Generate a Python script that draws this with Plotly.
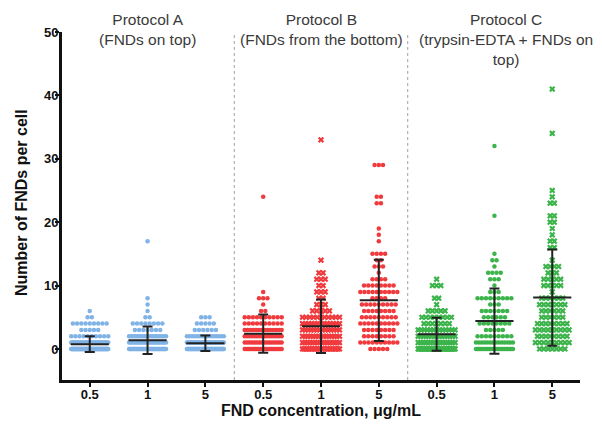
import numpy as np
import plotly.graph_objects as go

# ---------------- data (counts of cells per number of FNDs) ----------------
concentrations = ["0.5", "1", "5"]
protocol_titles = [
    "Protocol A<br>(FNDs on top)",
    "Protocol B<br>(FNDs from the bottom)",
    "Protocol C<br>(trypsin-EDTA + FNDs on<br>top)",
]
protocol_colors = ["#80b3e6", "#f03a3d", "#3cb44b"]

# Protocol A
a05_values = [0, 1, 2, 3, 4, 5, 6]
a05_counts = [101, 38, 10, 5, 9, 2, 1]
a1_values = [0, 1, 2, 3, 4, 5, 6, 7, 8, 17]
a1_counts = [55, 25, 18, 7, 8, 2, 1, 1, 1, 1]
a5_values = [0, 1, 2, 3, 4, 5]
a5_counts = [68, 41, 15, 6, 5, 3]

# Protocol B
b05_values = [0, 1, 2, 3, 4, 5, 6, 7, 8, 9, 24]
b05_counts = [31, 18, 16, 14, 10, 10, 2, 1, 3, 1, 1]
b1_values = [0, 1, 2, 3, 4, 5, 6, 7, 8, 9, 10, 11, 12, 14, 33]
b1_counts = [24, 16, 15, 14, 13, 11, 5, 3, 2, 3, 2, 3, 2, 1, 1]
b5_values = [0, 1, 2, 3, 4, 5, 6, 7, 8, 9, 10, 11, 12, 13, 14, 15, 17, 18, 19, 23, 24, 29]
b5_counts = [5, 10, 8, 8, 10, 9, 8, 9, 4, 10, 8, 4, 1, 3, 2, 4, 1, 1, 1, 2, 2, 3]

# Protocol C
c05_values = [0, 1, 2, 3, 4, 5, 6, 7, 8, 10, 11]
c05_counts = [36, 16, 15, 13, 7, 8, 5, 1, 2, 3, 1]
c1_values = [0, 1, 2, 3, 4, 5, 6, 7, 8, 9, 10, 11, 12, 13, 14, 15, 21, 32]
c1_counts = [29, 14, 9, 5, 8, 6, 7, 3, 9, 3, 1, 3, 4, 1, 2, 1, 1, 1]
c5_values = [0, 1, 2, 3, 4, 5, 6, 7, 8, 9, 10, 11, 12, 13, 14, 16, 17, 18, 19, 20, 21, 23, 24, 25, 34, 41]
c5_counts = [7, 9, 8, 9, 8, 6, 6, 7, 6, 1, 5, 5, 3, 4, 1, 2, 2, 1, 1, 2, 2, 2, 1, 1, 1, 1]

groups = [
    (a05_values, a05_counts, 0, "circle"),
    (a1_values, a1_counts, 0, "circle"),
    (a5_values, a5_counts, 0, "circle"),
    (b05_values, b05_counts, 1, "circle"),
    (b1_values, b1_counts, 1, "x"),
    (b5_values, b5_counts, 1, "circle"),
    (c05_values, c05_counts, 2, "x"),
    (c1_values, c1_counts, 2, "circle"),
    (c5_values, c5_counts, 2, "x"),
]

# ---------------- layout helpers ----------------
DOT_STEP = 0.073     # horizontal step between dots (x units)
HALF_WIDTH = 0.32    # max half width of a row
MEAN_HALF = 0.33
FONT = "Liberation Sans, Arial, sans-serif"

fig = go.Figure()

for gi, (vals, cnts, pi, sym) in enumerate(groups):
    color = protocol_colors[pi]
    xs, ys = [], []
    for v, n in zip(vals, cnts):
        step = DOT_STEP if n <= 1 else min(DOT_STEP, 2 * HALF_WIDTH / (n - 1))
        offs = (np.arange(n) - (n - 1) / 2) * step
        xs.extend(gi + offs)
        ys.extend([v] * n)
    fig.add_trace(go.Scatter(
        x=xs, y=ys, mode="markers",
        marker=dict(symbol=sym, size=4.5 if sym == "circle" else 5.5,
                    color=color, line=dict(width=0)),
        hoverinfo="y", showlegend=False,
    ))

for gi, (vals, cnts, pi, sym) in enumerate(groups):
    obs = np.repeat(vals, cnts)
    m = obs.mean()
    sd = obs.std(ddof=1)
    fig.add_trace(go.Scatter(
        x=[gi - MEAN_HALF, gi + MEAN_HALF], y=[m, m], mode="lines",
        line=dict(color="#222222", width=2), hoverinfo="skip", showlegend=False,
    ))
    fig.add_trace(go.Scatter(
        x=[gi], y=[m], mode="markers",
        marker=dict(size=1, color="rgba(0,0,0,0)"),
        error_y=dict(type="data", array=[sd], symmetric=True,
                     color="#222222", thickness=2, width=5),
        hoverinfo="skip", showlegend=False,
    ))

n_per_protocol = len(concentrations)
for k in range(1, len(protocol_titles)):
    xd = k * n_per_protocol - 0.5
    fig.add_shape(type="line", xref="x", yref="paper", x0=xd, x1=xd, y0=0, y1=1,
                  line=dict(color="#a0a0a0", width=1, dash="dot"), layer="below")

title_shift = [0, 0, 12]
for k, t in enumerate(protocol_titles):
    fig.add_annotation(
        x=k * n_per_protocol + 1, xref="x", xshift=title_shift[k],
        y=1.066, yref="paper", yanchor="top", xanchor="center",
        text=t, showarrow=False, align="center",
        font=dict(family=FONT, size=15.5, color="#3a3a3a"),
    )

fig.add_annotation(
    x=0.5, xref="paper", y=-0.088, yref="paper", yanchor="middle",
    text="FND concentration, μg/mL", showarrow=False,
    font=dict(family=FONT, size=16, color="#111111", weight="bold"),
)
fig.add_annotation(
    x=-0.077, xref="paper", y=0.509, yref="paper", xanchor="center", yanchor="middle",
    text="Number of FNDs per cell", showarrow=False, textangle=-90,
    font=dict(family=FONT, size=16, color="#111111", weight="bold"),
)

axis_common = dict(
    showline=True, linewidth=3, linecolor="#111111",
    ticks="outside", ticklen=4, tickwidth=2, tickcolor="#111111",
    showgrid=False, zeroline=False,
    tickfont=dict(family=FONT, size=13, color="#111111", weight="bold"),
)
fig.update_xaxes(range=[-0.48, 8.48], tickvals=list(range(len(groups))),
                 ticktext=concentrations * len(protocol_titles),
                 ticklabelstandoff=-4, **axis_common)
fig.update_yaxes(range=[-4.9, 50], tickvals=[0, 10, 20, 30, 40, 50],
                 ticklabelstandoff=-6, **axis_common)

fig.update_layout(
    width=602, height=425,
    margin=dict(l=62, r=22, t=32, b=45),
    plot_bgcolor="white", paper_bgcolor="white",
    showlegend=False,
)

fig.write_html("out.html", config={"displayModeBar": False},
               post_script="document.body.style.margin='0';document.body.style.overflow='hidden';")
